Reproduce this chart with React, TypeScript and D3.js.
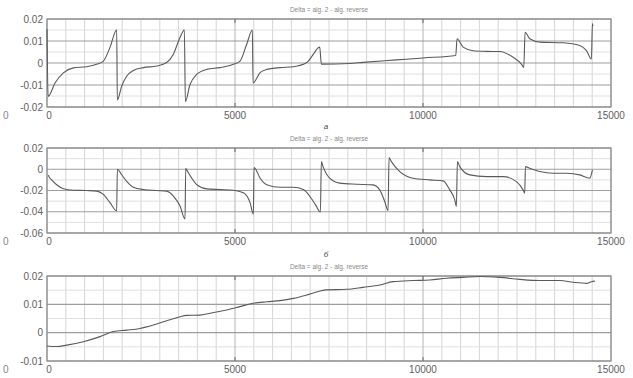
import * as d3 from "d3";

// x positions (samples) and values for each panel
const xTicks = [0, 5000, 10000, 15000];
const titleText = "Delta = alg. 2 - alg. reverse";
const panelMarks = ["", "а", "б"];

const topX = [0, 30, 213, 435, 700, 1055, 1320, 1500, 1676, 1854,
  1870, 1986, 2119, 2297, 2563, 2917, 3183, 3361, 3538, 3653,
  3680, 3804, 3981, 4248, 4602, 4957, 5134, 5311, 5462,
  5480, 5666, 5843, 6198, 6552, 6907, 7085, 7218, 7253,
  7297, 8051, 8406, 9292, 10002, 10871,
  10906, 11066, 11332, 11686, 12041, 12396, 12618, 12680,
  12715, 12839, 13105, 13726, 14169, 14347, 14480,
  14506, 14520];
const topY = [0.0154, -0.0152, -0.0091, -0.0045, -0.0022, -0.0017, -0.0006, 0.0009, 0.0071, 0.0151,
  -0.0168, -0.0105, -0.006, -0.0034, -0.0021, -0.0014, 0.0002, 0.004, 0.0116, 0.015,
  -0.0175, -0.0098, -0.0052, -0.0029, -0.0021, -0.0006, 0.0009, 0.0085, 0.015,
  -0.0091, -0.0044, -0.0029, -0.0021, -0.0017, 0.0002, 0.004, 0.007, 0.0072,
  -0.0005, -0.0002, 0.0003, 0.0014, 0.0023, 0.0034,
  0.011, 0.0072, 0.0056, 0.0053, 0.0052, 0.0026, -0.0005, -0.002,
  0.014, 0.011, 0.0095, 0.0092, 0.008, 0.0056, 0.0018,
  0.0179, 0.0168];

const midX = [35, 53, 124, 257, 435, 701, 1055, 1321, 1498, 1676, 1853,
  1871, 1986, 2119, 2297, 2563, 2917, 3183, 3361, 3538, 3671,
  3689, 3715, 3848, 3981, 4248, 4602, 4957, 5223, 5400, 5489,
  5506, 5533, 5666, 5843, 6198, 6552, 6819, 7040, 7150, 7271,
  7297, 7342, 7519, 7785, 8228, 8672, 8849, 8982, 9071,
  9097, 9159, 9381, 9736, 10180, 10534, 10712, 10845, 10888,
  10915, 10978, 11244, 11686, 12130, 12484, 12662, 12706,
  12724, 12839, 13105, 13460, 13814, 14169, 14435,
  14506];
const midY = [-0.0055, -0.007, -0.01, -0.0146, -0.0183, -0.0197, -0.0200, -0.0206, -0.0237, -0.0314, -0.0391,
  0.0, -0.0052, -0.0114, -0.0169, -0.0191, -0.02, -0.0206, -0.0252, -0.0345, -0.0468,
  0.0009, -0.0006, -0.0083, -0.0145, -0.0185, -0.0191, -0.0197, -0.0222, -0.0314, -0.0422,
  0.0015, 0.0009, -0.0083, -0.0145, -0.0169, -0.0169, -0.0191, -0.028, -0.034, -0.0403,
  0.0072, 0.0025, -0.0084, -0.0131, -0.0141, -0.0147, -0.0194, -0.0303, -0.039,
  0.0109, 0.0072, -0.0022, -0.0084, -0.01, -0.0109, -0.0194, -0.0288, -0.035,
  0.0072, 0.0025, -0.0053, -0.0069, -0.0069, -0.0116, -0.0194, -0.0225,
  0.0025, 0.0009, -0.0022, -0.0038, -0.0038, -0.0053, -0.0084,
  -0.0006];

const lowX = [0, 257, 523, 967, 1410, 1765, 2119, 2474, 2829, 3183, 3538, 3715, 4070,
  4425, 4779, 5134, 5488, 5843, 6198, 6552, 6907, 7218, 7430, 7962, 8406, 8849,
  9204, 9736, 10180, 10623, 11066, 11510, 12041, 12573, 13105, 13637, 13992, 14347,
  14480, 14569];
const lowY = [-0.0047, -0.0049, -0.0044, -0.0032, -0.0014, 0.0004, 0.0009, 0.0015, 0.0027, 0.0042,
  0.0056, 0.0061, 0.0062, 0.0071, 0.008, 0.0092, 0.0104, 0.0109, 0.0113, 0.0121, 0.0133,
  0.0145, 0.0151, 0.0153, 0.016, 0.0168, 0.018, 0.0184, 0.0186, 0.0192, 0.0195, 0.0198,
  0.0195, 0.0188, 0.0184, 0.0184, 0.0178, 0.0174, 0.018, 0.0182];

const topTicks = [-0.02, -0.01, 0, 0.01, 0.02];
const midTicks = [-0.06, -0.04, -0.02, 0, 0.02];
const lowTicks = [-0.01, 0, 0.01, 0.02];

const W = 633;
const H = 378;
const left = 47;
const right = 611;

const fmt = (v: number) => (v === 0 ? "0" : v.toFixed(2));

const panels = [
  { xs: topX, ys: topY, ticks: topTicks, top: 19, bottom: 107 },
  { xs: midX, ys: midY, ticks: midTicks, top: 148, bottom: 233 },
  { xs: lowX, ys: lowY, ticks: lowTicks, top: 276, bottom: 361 },
];

const font = "'Liberation Sans', Arial, sans-serif";

function Panel({ p, idx }: { p: typeof panels[0]; idx: number }) {
  const x = d3.scaleLinear().domain([0, 15000]).range([left, right]);
  const y = d3.scaleLinear().domain([p.ticks[0], p.ticks[p.ticks.length - 1]]).range([p.bottom, p.top]);
  const minorX = d3.range(500, 15000, 500).filter((v) => v % 5000 !== 0);
  const step = p.ticks[1] - p.ticks[0];
  const minorY = p.ticks.slice(0, -1).map((t) => t + step / 2);
  const pts = p.xs.map((v, i) => [v, p.ys[i]] as [number, number]);
  const line = d3.line<[number, number]>().x((d) => x(d[0])).y((d) => y(d[1])).curve(d3.curveMonotoneX);
  return (
    <g>
      {minorX.map((v) => (
        <line key={"mx" + v} x1={x(v)} x2={x(v)} y1={p.top} y2={p.bottom} stroke="#d6d6d6" strokeWidth={1} />
      ))}
      {minorY.map((v) => (
        <line key={"my" + v} x1={left} x2={right} y1={y(v)} y2={y(v)} stroke="#e0e0e0" strokeWidth={1} />
      ))}
      {xTicks.map((v) => (
        <line key={"gx" + v} x1={x(v)} x2={x(v)} y1={p.top} y2={p.bottom} stroke="#b4b4b4" strokeWidth={1} />
      ))}
      {p.ticks.map((v) => (
        <line key={"gy" + v} x1={left} x2={right} y1={y(v)} y2={y(v)} stroke="#9e9e9e" strokeWidth={1.2} />
      ))}
      <rect x={left} y={p.top} width={right - left} height={p.bottom - p.top} fill="none" stroke="#8c8c8c" strokeWidth={1.2} />
      {xTicks.slice(1, 3).map((v) => (
        <g key={"tk" + v}>
          <line x1={x(v)} x2={x(v)} y1={p.top} y2={p.top + 4} stroke="#666" strokeWidth={1} />
          <line x1={x(v)} x2={x(v)} y1={p.bottom} y2={p.bottom - 4} stroke="#666" strokeWidth={1} />
        </g>
      ))}
      <path d={line(pts) ?? ""} fill="none" stroke="#5a5a5a" strokeWidth={1.1} strokeLinejoin="round" />
      {p.ticks.map((v) => (
        <text key={"ly" + v} x={43} y={y(v) + 3.5} textAnchor="end" fontSize={10} fill="#606060" fontFamily={font}>
          {fmt(v)}
        </text>
      ))}
      {xTicks.map((v) => (
        <text key={"lx" + v} x={x(v) + (v === 0 ? 2 : 0)} y={p.bottom + 12} textAnchor="middle" fontSize={10} fill="#606060" fontFamily={font}>
          {v}
        </text>
      ))}
      <text x={3} y={p.bottom + 12} textAnchor="start" fontSize={10} fill="#888" fontFamily={font}>0</text>
      <text x={(left + right) / 2} y={p.top - 7} textAnchor="middle" fontSize={6.5} fill="#888" fontFamily={font}>
        {titleText}
      </text>
      {panelMarks[idx] ? (
        <text x={326} y={p.top - 19} textAnchor="middle" fontSize={8} fontStyle="italic" fill="#444" fontFamily={font}>
          {panelMarks[idx]}
        </text>
      ) : null}
    </g>
  );
}

export default function App() {
  return (
    <svg width={W} height={H} style={{ position: "absolute", left: 0, top: 0, background: "#fff" }}>
      <rect width={W} height={H} fill="#fff" />
      {panels.map((p, i) => (
        <Panel key={i} p={p} idx={i} />
      ))}
    </svg>
  );
}
